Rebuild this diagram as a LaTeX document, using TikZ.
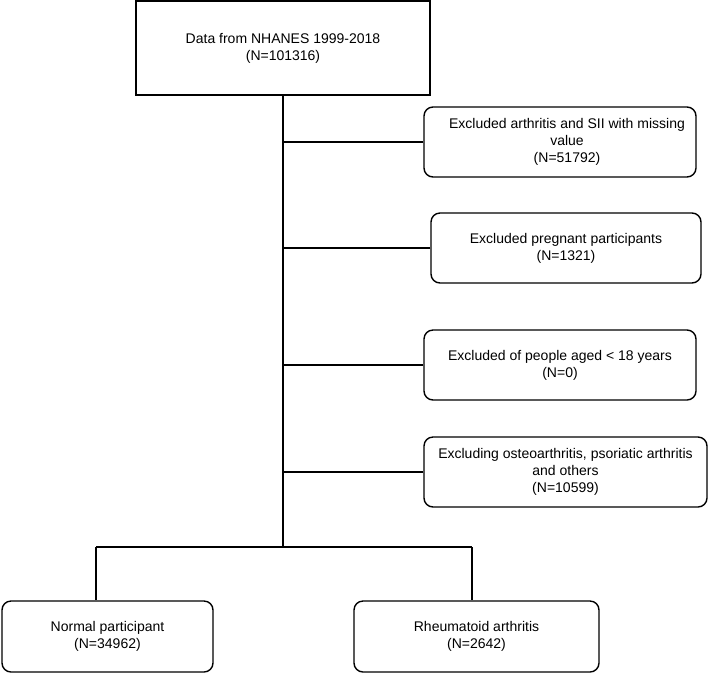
\documentclass[tikz,border=0pt]{standalone}
\usepackage{fontspec}
\setmainfont{Liberation Sans}
\begin{document}
\begin{tikzpicture}[x=1pt,y=-1pt,
  box/.style={draw, line width=1.4pt, rounded corners=9pt, align=center, inner sep=0pt,
    font=\fontsize{14}{17}\selectfont},
  sqbox/.style={box, rounded corners=0pt},
  link/.style={line width=1.4pt}]
\useasboundingbox (0,0) rectangle (708,673);
\node[sqbox, minimum width=294pt, minimum height=94pt] (top) at (283,48) {Data from NHANES 1999-2018\\(N=101316)};
\node[box, minimum width=272pt, minimum height=70pt] (b1) at (560,142) {\hspace*{14pt}Excluded arthritis and SII with missing\\\hspace*{14pt}value\\\hspace*{14pt}(N=51792)};
\node[box, minimum width=270pt, minimum height=70pt] (b2) at (566,248) {Excluded pregnant participants\\(N=1321)};
\node[box, minimum width=272pt, minimum height=70pt] (b3) at (560,365) {Excluded of people aged < 18 years\\(N=0)};
\node[box, minimum width=283pt, minimum height=70pt] (b4) at (565.5,472) {Excluding osteoarthritis, psoriatic arthritis\\and others\\(N=10599)};
\node[box, minimum width=211pt, minimum height=71pt] (bl) at (107.5,636.5) {Normal participant\\(N=34962)};
\node[box, minimum width=245pt, minimum height=71pt] (br) at (476.5,636.5) {Rheumatoid arthritis\\(N=2642)};
\coordinate (j) at (283,547);
\coordinate (jl) at (96,547);
\coordinate (jr) at (472,547);
\draw[link] (top.south) -- (j);
\foreach \b in {b1,b2,b3,b4} \draw[link] (\b.west) -- (\b.west -| top.south);
\draw[link] (jl) -- (jr);
\draw[link] (jl) -- (jl |- bl.north);
\draw[link] (jr) -- (jr |- br.north);
\end{tikzpicture}
\end{document}
